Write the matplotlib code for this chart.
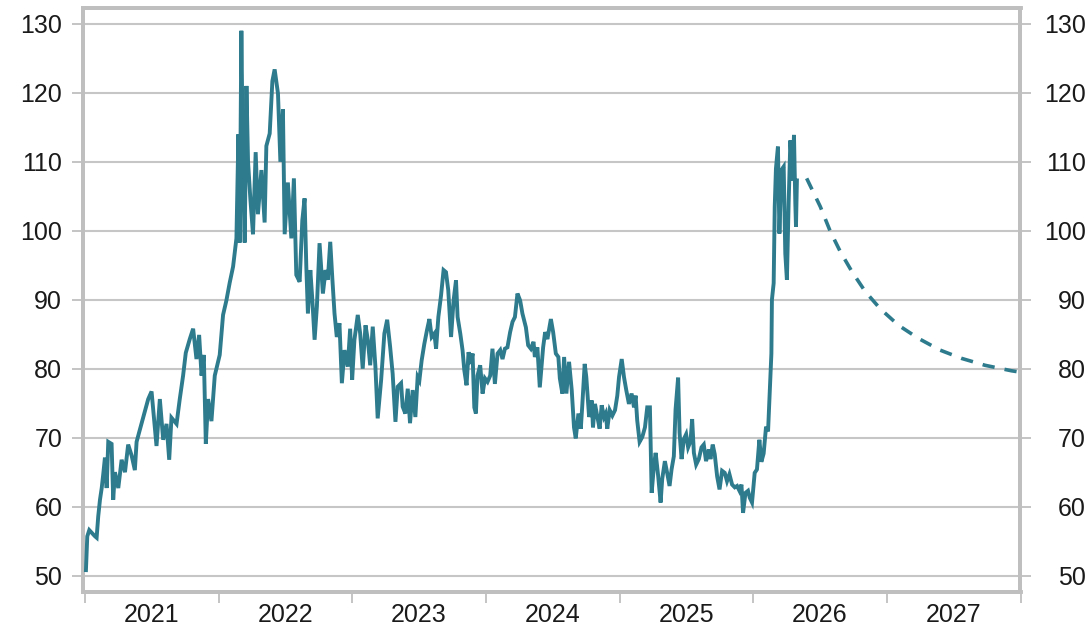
import matplotlib
matplotlib.use("Agg")
import matplotlib.pyplot as plt
from matplotlib.ticker import FixedLocator, NullFormatter, FixedFormatter

# ---------------- data (decimal years, price) ----------------
hist_t = [
 2021.007, 2021.017, 2021.032, 2021.075, 2021.087, 2021.099, 2021.112, 2021.125, 2021.137, 2021.149,
 2021.162, 2021.174, 2021.199, 2021.211, 2021.224, 2021.249, 2021.274, 2021.299, 2021.323, 2021.349,
 2021.373, 2021.386, 2021.411, 2021.448, 2021.473, 2021.498, 2021.535, 2021.560, 2021.585, 2021.610,
 2021.630, 2021.647, 2021.685, 2021.709, 2021.734, 2021.754, 2021.784, 2021.809, 2021.834, 2021.854,
 2021.872, 2021.889, 2021.904, 2021.921, 2021.946, 2021.971, 2022.008, 2022.033, 2022.058, 2022.083,
 2022.108, 2022.133, 2022.148, 2022.158, 2022.170, 2022.182, 2022.195, 2022.208, 2022.220, 2022.237,
 2022.257, 2022.277, 2022.294, 2022.320, 2022.344, 2022.357, 2022.382, 2022.402, 2022.419, 2022.444,
 2022.462, 2022.481, 2022.494, 2022.518, 2022.544, 2022.563, 2022.581, 2022.606, 2022.626, 2022.643,
 2022.656, 2022.668, 2022.686, 2022.701, 2022.718, 2022.735, 2022.755, 2022.780, 2022.800, 2022.817,
 2022.835, 2022.850, 2022.867, 2022.884, 2022.904, 2022.922, 2022.942, 2022.966, 2022.984, 2022.999,
 2023.016, 2023.041, 2023.059, 2023.078, 2023.099, 2023.116, 2023.134, 2023.153, 2023.173, 2023.190,
 2023.216, 2023.240, 2023.261, 2023.283, 2023.302, 2023.323, 2023.340, 2023.365, 2023.377, 2023.397,
 2023.415, 2023.432, 2023.452, 2023.472, 2023.489, 2023.502, 2023.519, 2023.539, 2023.559, 2023.577,
 2023.594, 2023.614, 2023.627, 2023.644, 2023.664, 2023.683, 2023.701, 2023.718, 2023.739, 2023.758,
 2023.776, 2023.788, 2023.808, 2023.825, 2023.838, 2023.855, 2023.870, 2023.888, 2023.900, 2023.913,
 2023.925, 2023.937, 2023.957, 2023.975, 2023.993, 2024.012, 2024.032, 2024.049, 2024.067, 2024.087,
 2024.107, 2024.124, 2024.142, 2024.161, 2024.181, 2024.199, 2024.217, 2024.236, 2024.256, 2024.273,
 2024.299, 2024.316, 2024.336, 2024.356, 2024.366, 2024.385, 2024.403, 2024.428, 2024.443, 2024.460,
 2024.486, 2024.503, 2024.523, 2024.542, 2024.553, 2024.572, 2024.585, 2024.602, 2024.622, 2024.642,
 2024.659, 2024.672, 2024.692, 2024.710, 2024.721, 2024.739, 2024.751, 2024.772, 2024.792, 2024.801,
 2024.816, 2024.834, 2024.851, 2024.866, 2024.884, 2024.896, 2024.908, 2024.926, 2024.946, 2024.966,
 2024.983, 2024.996, 2025.016, 2025.033, 2025.050, 2025.070, 2025.090, 2025.108, 2025.120, 2025.132,
 2025.150, 2025.170, 2025.190, 2025.207, 2025.227, 2025.240, 2025.257, 2025.270, 2025.289, 2025.307,
 2025.319, 2025.339, 2025.356, 2025.374, 2025.389, 2025.406, 2025.419, 2025.438, 2025.449, 2025.464,
 2025.481, 2025.498, 2025.513, 2025.531, 2025.543, 2025.556, 2025.573, 2025.593, 2025.613, 2025.630,
 2025.647, 2025.668, 2025.680, 2025.697, 2025.712, 2025.730, 2025.748, 2025.767, 2025.787, 2025.804,
 2025.822, 2025.842, 2025.862, 2025.879, 2025.897, 2025.912, 2025.924, 2025.942, 2025.961, 2025.974,
 2025.991, 2026.011, 2026.028, 2026.046, 2026.061, 2026.078, 2026.096, 2026.111, 2026.128, 2026.136,
 2026.140, 2026.153, 2026.161, 2026.170, 2026.185, 2026.196, 2026.211, 2026.228, 2026.240, 2026.252,
 2026.265, 2026.278, 2026.295, 2026.305, 2026.315, 2026.320, 2026.327,
]
hist_v = [
 50.8, 55.7, 56.6, 55.7, 55.5, 58.6, 61.0, 62.7, 64.8, 67.1,
 62.7, 69.4, 69.1, 61.0, 65.0, 62.7, 66.8, 65.0, 69.0, 67.4,
 65.3, 69.4, 71.2, 73.8, 75.6, 76.7, 68.8, 75.6, 69.7, 72.0,
 66.8, 72.9, 72.0, 75.6, 79.0, 82.3, 84.3, 85.8, 81.4, 84.9,
 79.0, 82.0, 69.1, 75.6, 72.4, 79.0, 82.0, 87.8, 89.9, 92.5,
 94.8, 98.9, 114.0, 98.3, 129.0, 108.8, 98.3, 121.0, 110.0, 104.7,
 99.5, 111.4, 102.4, 108.8, 101.2, 112.3, 114.1, 121.7, 123.4, 119.9,
 110.0, 117.6, 99.5, 107.0, 98.9, 107.6, 93.6, 92.6, 101.5, 104.7,
 94.8, 88.0, 94.3, 90.0, 84.2, 89.0, 98.2, 90.9, 94.3, 92.9,
 98.4, 93.3, 88.0, 84.6, 86.6, 77.9, 82.7, 80.3, 85.8, 78.4,
 84.2, 87.8, 85.1, 80.0, 86.3, 84.2, 80.5, 86.1, 80.3, 72.8,
 78.4, 85.1, 87.1, 83.2, 79.3, 72.3, 77.4, 77.9, 74.5, 73.5,
 77.1, 72.1, 76.9, 73.0, 78.8, 78.3, 81.2, 83.6, 85.6, 87.2,
 84.6, 85.1, 82.9, 87.5, 90.6, 94.3, 94.0, 91.4, 84.6, 89.9,
 92.8, 87.5, 85.1, 82.7, 79.8, 77.6, 82.4, 80.7, 82.2, 74.4,
 73.5, 79.0, 80.5, 76.4, 78.6, 78.1, 79.0, 82.9, 77.8, 82.2,
 82.7, 81.4, 82.9, 83.1, 85.3, 86.8, 87.5, 90.9, 89.9, 88.0,
 86.0, 83.4, 82.9, 83.9, 81.7, 83.1, 77.3, 83.1, 85.3, 84.3,
 87.2, 85.3, 82.2, 81.7, 78.6, 76.4, 81.7, 76.4, 81.0, 76.9,
 71.5, 69.9, 73.5, 71.3, 74.7, 80.7, 78.8, 73.0, 75.4, 71.5,
 74.9, 73.0, 71.3, 74.7, 73.0, 73.5, 71.3, 74.0, 73.2, 74.0,
 76.1, 78.8, 81.4, 78.8, 76.9, 74.9, 76.4, 74.4, 76.1, 72.5,
 69.4, 70.1, 71.5, 74.4, 74.4, 62.0, 65.9, 67.8, 64.4, 60.6,
 64.0, 66.6, 64.9, 63.0, 65.4, 67.3, 74.1, 78.7, 70.7, 66.9,
 69.8, 70.5, 68.6, 69.5, 72.7, 67.8, 66.1, 66.9, 68.6, 69.0,
 66.6, 68.3, 66.9, 69.0, 67.6, 64.4, 62.5, 65.2, 64.9, 63.7,
 64.7, 63.2, 62.8, 63.0, 62.3, 63.2, 59.1, 62.0, 62.3, 61.3,
 60.6, 64.9, 65.4, 69.7, 66.5, 67.7, 71.6, 70.9, 78.4, 82.2,
 90.0, 92.4, 103.5, 109.0, 112.2, 99.6, 108.8, 109.3, 96.7, 92.9,
 104.0, 113.1, 107.3, 113.9, 104.0, 100.6, 107.3,
]

fc_t = [2026.400, 2026.502, 2026.577, 2026.651, 2026.738, 2026.838, 2026.950,
        2027.087, 2027.236, 2027.398, 2027.559, 2027.734, 2027.933, 2028.000]
fc_v = [107.6, 103.5, 99.9, 97.0, 94.1, 91.2, 88.7,
        86.3, 84.4, 82.7, 81.5, 80.5, 79.7, 79.5]

years = [2021, 2022, 2023, 2024, 2025, 2026, 2027, 2028]
year_labels = ["2021", "2022", "2023", "2024", "2025", "2026", "2027"]
y_ticks = [50, 60, 70, 80, 90, 100, 110, 120, 130]

# ---------------- style ----------------
LINE = "#2D7B8D"
GRID = "#C6C6C6"
FRAME = "#BFBFBF"
TXT = "#1A1A1A"
plt.rcParams["font.family"] = ["Liberation Sans", "DejaVu Sans"]

fig = plt.figure(figsize=(10.89, 6.32), dpi=100)
ax = fig.add_axes([83 / 1089, 1 - 591.5 / 632, (1020.5 - 83) / 1089, (591.5 - 8) / 632])

ax.plot(hist_t, hist_v, color=LINE, lw=2.8, solid_joinstyle="miter", zorder=3)
ax.plot(fc_t, fc_v, color=LINE, lw=2.6, dashes=(3.4, 2.8), zorder=3)

ax.set_xlim(2020.985, 2028.0)
ax.set_ylim(47.7, 132.3)

# y axis
ax.yaxis.set_major_locator(FixedLocator(y_ticks))
ax.grid(axis="y", color=GRID, lw=1.5, zorder=0)
ax.tick_params(axis="y", which="major", length=8, width=1.3, color=FRAME,
               labelsize=18, labelcolor=TXT, pad=7, left=True, right=False)

ax2 = ax.twinx()
ax2.set_ylim(ax.get_ylim())
ax2.yaxis.set_major_locator(FixedLocator(y_ticks))
ax2.tick_params(axis="y", which="major", length=8, width=1.3, color=FRAME,
                labelsize=18, labelcolor=TXT, pad=39)
for lab in ax2.get_yticklabels():
    lab.set_horizontalalignment("right")

# x axis
ax.xaxis.set_major_locator(FixedLocator(years))
ax.xaxis.set_major_formatter(NullFormatter())
ax.xaxis.set_minor_locator(FixedLocator([y + 0.5 for y in years[:-1]]))
ax.xaxis.set_minor_formatter(FixedFormatter(year_labels))
ax.tick_params(axis="x", which="major", length=8, width=1.3, color=FRAME, bottom=True)
ax.tick_params(axis="x", which="minor", length=0, labelsize=18, labelcolor=TXT, pad=8)

for a in (ax, ax2):
    for s in a.spines.values():
        s.set_color(FRAME)
        s.set_linewidth(2.8)
ax2.set_zorder(ax.get_zorder() - 1)
ax.patch.set_visible(False)

fig.savefig("out.png", dpi=100)
